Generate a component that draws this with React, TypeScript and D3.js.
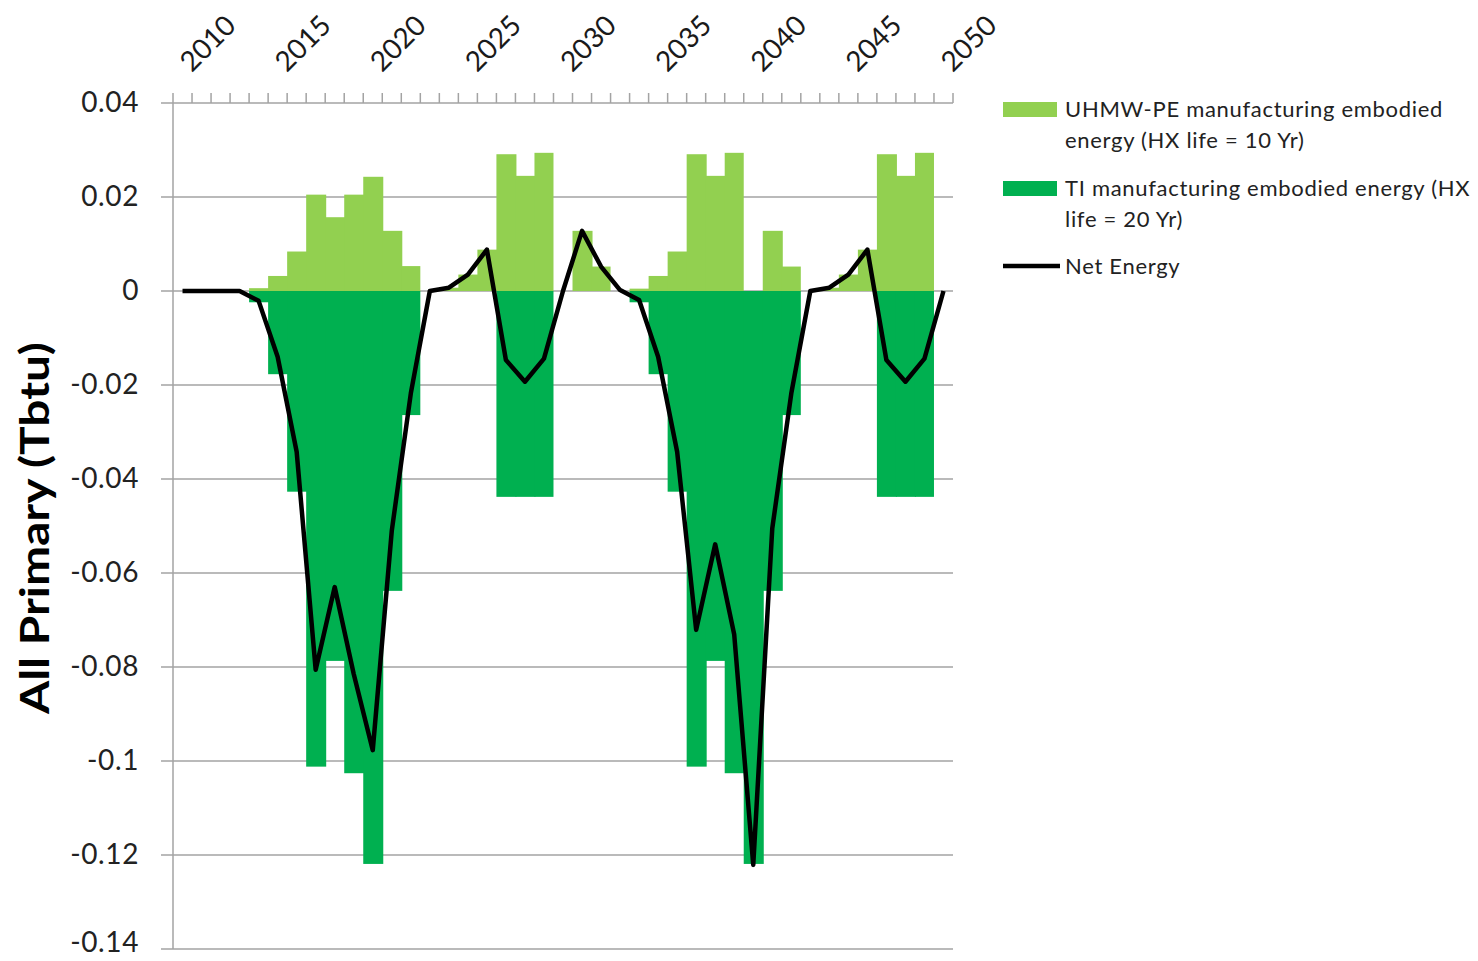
import React, { useEffect, useRef } from "react";
import * as d3 from "d3";

// categories: one bar per year
const years = d3.range(2010, 2051);
const labelYears = [2010, 2015, 2020, 2025, 2030, 2035, 2040, 2045, 2050];

// UHMW-PE manufacturing embodied energy (HX life = 10 Yr)
const uhmwpe = [
  0, 0, 0, 0, 0.0006, 0.0032, 0.0084, 0.0205, 0.0157, 0.0205,
  0.0243, 0.0128, 0.0053, 0, 0.0007, 0.0035, 0.0088, 0.0291, 0.0245, 0.0294,
  0, 0.0128, 0.0052, 0, 0.0005, 0.0032, 0.0084, 0.0291, 0.0245, 0.0294,
  0, 0.0128, 0.0052, 0, 0.0007, 0.0035, 0.0088, 0.0291, 0.0245, 0.0294,
  0,
];

// TI manufacturing embodied energy (HX life = 20 Yr)
const ti = [
  0, 0, 0, 0, -0.0024, -0.0177, -0.0427, -0.1012, -0.0787, -0.1026,
  -0.1219, -0.0638, -0.0264, 0, 0, 0, 0, -0.0438, -0.0438, -0.0438,
  0, 0, 0, 0, -0.0024, -0.0177, -0.0427, -0.1012, -0.0787, -0.1026,
  -0.1219, -0.0638, -0.0264, 0, 0, 0, 0, -0.0438, -0.0438, -0.0438,
  0,
];

// Net Energy
const netEnergy = [
  0, 0, 0, 0, -0.0021, -0.0140, -0.0342, -0.0806, -0.0630, -0.0815,
  -0.0977, -0.0510, -0.0218, 0, 0.0007, 0.0035, 0.0088, -0.0147, -0.0193, -0.0144,
  0, 0.0128, 0.0052, 0.0002, -0.0019, -0.0140, -0.0342, -0.0721, -0.0539, -0.0731,
  -0.1221, -0.0505, -0.0218, 0, 0.0007, 0.0035, 0.0088, -0.0147, -0.0193, -0.0144,
  0,
];

const App = () => {
  const svgRef = useRef<SVGSVGElement>(null);

  useEffect(() => {
    const svg = d3.select(svgRef.current);
    svg.selectAll("*").remove();

    const left = 173;
    const right = 953;
    const top = 103;
    const bottom = 949;
    const grid = "#a3a3a3";
    const font = "Lato, 'Open Sans', sans-serif";

    const x = d3.scaleBand<number>().domain(years).range([left, right]).padding(0);
    const y = d3.scaleLinear().domain([-0.14, 0.04]).range([bottom, top]);
    const yTicks = y.ticks(10);

    // horizontal gridlines
    svg.append("g")
      .selectAll("line")
      .data(yTicks)
      .join("line")
      .attr("x1", left - 12)
      .attr("x2", right)
      .attr("y1", (d) => y(d))
      .attr("y2", (d) => y(d))
      .attr("stroke", grid)
      .attr("stroke-width", 1.5);

    // positive stack (slight overlap so neighbouring bars show no seam)
    svg.append("g")
      .selectAll("rect")
      .data(years)
      .join("rect")
      .attr("x", (d) => x(d)!)
      .attr("width", (d, i) => x.bandwidth() + (i < years.length - 1 && uhmwpe[i + 1] ? 1 : 0))
      .attr("y", (d, i) => y(uhmwpe[i]))
      .attr("height", (d, i) => y(0) - y(uhmwpe[i]))
      .attr("fill", "#92d050");

    // negative stack
    svg.append("g")
      .selectAll("rect")
      .data(years)
      .join("rect")
      .attr("x", (d) => x(d)!)
      .attr("width", (d, i) => x.bandwidth() + (i < years.length - 1 && ti[i + 1] ? 1 : 0))
      .attr("y", y(0))
      .attr("height", (d, i) => y(ti[i]) - y(0))
      .attr("fill", "#00b050");

    // y axis line
    svg.append("line")
      .attr("x1", left).attr("x2", left)
      .attr("y1", top).attr("y2", bottom)
      .attr("stroke", grid).attr("stroke-width", 1.5);

    // category axis at the top, ticks between bars
    const bounds = years.map((d) => x(d)!).concat([right]);
    svg.append("g")
      .selectAll("line")
      .data(bounds)
      .join("line")
      .attr("x1", (d) => d).attr("x2", (d) => d)
      .attr("y1", top - 10).attr("y2", top)
      .attr("stroke", grid).attr("stroke-width", 1.5);

    // value labels; the lowest one sits right at the page edge, keep it inside
    svg.append("g")
      .selectAll("text")
      .data(yTicks)
      .join("text")
      .attr("x", 139)
      .attr("y", (d) => Math.min(y(d), 943))
      .attr("dy", "0.33em")
      .attr("text-anchor", "end")
      .style("font-family", font)
      .style("font-size", "28px")
      .style("letter-spacing", "0.6px")
      .style("fill", "#222")
      .text((d) => (d === 0 ? "0" : String(+d.toFixed(2))));

    svg.append("g")
      .selectAll("text")
      .data(labelYears)
      .join("text")
      .attr("transform", (d) => `translate(${x(d)! + x.bandwidth() / 2 + 2}, 66) rotate(-45)`)
      .attr("dy", "0.36em")
      .attr("text-anchor", "start")
      .style("font-family", font)
      .style("font-size", "28px")
      .style("fill", "#1a1a1a")
      .text((d) => d);

    // net energy line
    const line = d3.line<number>()
      .x((d, i) => x(years[i])! + x.bandwidth() / 2)
      .y((d) => y(d));

    svg.append("path")
      .datum(netEnergy)
      .attr("d", line)
      .attr("fill", "none")
      .attr("stroke", "#000")
      .attr("stroke-width", 4.5)
      .attr("stroke-linejoin", "round");

    // y axis title
    svg.append("text")
      .attr("transform", "translate(35, 528) rotate(-90)")
      .attr("dy", "0.35em")
      .attr("text-anchor", "middle")
      .attr("textLength", 372)
      .attr("lengthAdjust", "spacingAndGlyphs")
      .style("font-family", font)
      .style("font-weight", "bold")
      .style("font-size", "40px")
      .style("fill", "#000")
      .text("All Primary (Tbtu)");

    // legend
    const legend = svg.append("g").style("font-family", font).style("font-size", "22px").style("fill", "#222");
    const legendText = (lines: string[], y0: number) => {
      lines.forEach((t, k) => {
        legend.append("text")
          .attr("x", 1065)
          .attr("y", y0 + k * 31)
          .attr("dy", "0.35em")
          .style("letter-spacing", "0.7px")
          .text(t);
      });
    };
    legend.append("rect").attr("x", 1003).attr("y", 102).attr("width", 54).attr("height", 15).attr("fill", "#92d050");
    legendText(["UHMW-PE manufacturing embodied", "energy (HX life = 10 Yr)"], 109);
    legend.append("rect").attr("x", 1003).attr("y", 181).attr("width", 54).attr("height", 15).attr("fill", "#00b050");
    legendText(["TI manufacturing embodied energy (HX", "life = 20 Yr)"], 188);
    legend.append("line").attr("x1", 1003).attr("x2", 1060).attr("y1", 266).attr("y2", 266)
      .attr("stroke", "#000").attr("stroke-width", 4.5);
    legendText(["Net Energy"], 266);
  }, []);

  return (
    <svg
      ref={svgRef}
      width={1478}
      height={961}
      style={{ position: "absolute", left: 0, top: 0, background: "#fff" }}
    ></svg>
  );
};

export default App;
